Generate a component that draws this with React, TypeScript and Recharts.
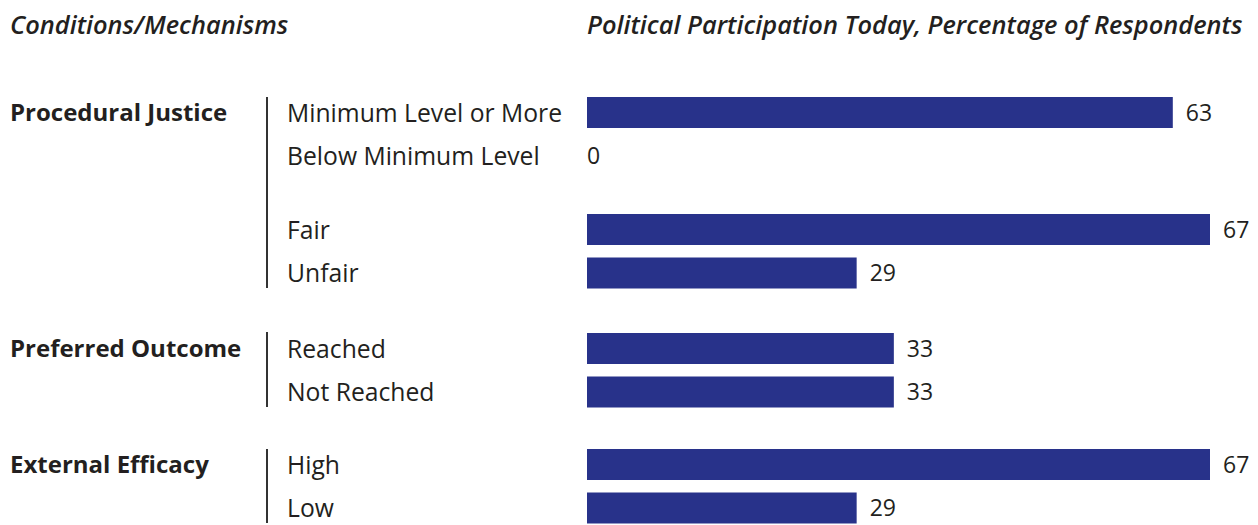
import { Bar, BarChart, LabelList, Rectangle, XAxis, YAxis } from 'recharts'

// each block is two rows of the figure
const blockLabels = [
  ['Minimum Level or More', 'Below Minimum Level'],
  ['Fair', 'Unfair'],
  ['Reached', 'Not Reached'],
  ['High', 'Low'],
]
const blockValues = [
  [63, 0],
  [67, 29],
  [33, 33],
  [67, 29],
]
const groupNames = ['Procedural Justice', 'Preferred Outcome', 'External Efficacy']

const leftTitle = 'Conditions/Mechanisms'
const rightTitle = 'Political Participation Today, Percentage of Respondents'

const BAR_COLOR = '#28328a'
const TEXT_COLOR = '#231f20'
const FONT = '"Open Sans", "Noto Sans", sans-serif'

const blockTops = [91, 208, 327, 443]
const ROW = 43.5

function CategoryTick(props: any) {
  return (
    <text
      x={287}
      y={props.y}
      dy="0.36em"
      textAnchor="start"
      fill={TEXT_COLOR}
      fontSize={24.7}
      fontFamily={FONT}
    >
      {props.payload.value}
    </text>
  )
}

function ValueLabel(props: any) {
  const { x, y, width, height, value } = props
  const lx = value > 0 ? x + width + 13 : x
  return (
    <text
      x={lx}
      y={y + height / 2}
      dy="0.36em"
      fill={TEXT_COLOR}
      fontSize={23}
      fontFamily={FONT}
    >
      {value}
    </text>
  )
}

// zero values keep a 1px slot (so the label shows) but draw nothing
function BarShape(props: any) {
  if (!props.value) return null
  return <Rectangle {...props} />
}

function Block({ index }: { index: number }) {
  const data = blockLabels[index].map((label, i) => ({
    label,
    value: blockValues[index][i],
  }))
  return (
    <div style={{ position: 'absolute', left: 0, top: blockTops[index] }}>
      <BarChart
        width={1258}
        height={ROW * 2}
        data={data}
        layout="vertical"
        margin={{ top: 0, right: 48, bottom: 0, left: 287 }}
        barCategoryGap={6}
      >
        <XAxis type="number" domain={[0, 67]} hide />
        <YAxis
          type="category"
          dataKey="label"
          width={300}
          axisLine={false}
          tickLine={false}
          tick={<CategoryTick />}
          interval={0}
        />
        <Bar
          dataKey="value"
          fill={BAR_COLOR}
          barSize={31}
          minPointSize={1}
          shape={<BarShape />}
          isAnimationActive={false}
        >
          <LabelList dataKey="value" content={<ValueLabel />} />
        </Bar>
      </BarChart>
    </div>
  )
}

const titleStyle = {
  position: 'absolute' as const,
  top: 8,
  fontSize: 25.4,
  fontStyle: 'italic',
  fontWeight: 600,
  color: TEXT_COLOR,
  lineHeight: '32px',
}

const groupTextStyle = {
  position: 'absolute' as const,
  left: 10,
  fontSize: 24,
  fontWeight: 700,
  color: TEXT_COLOR,
  lineHeight: '32px',
}

const ruleStyle = {
  position: 'absolute' as const,
  left: 266,
  width: 1.5,
  background: '#333',
}

export default function App() {
  return (
    <div
      style={{
        position: 'fixed',
        left: 0,
        top: 0,
        width: 1258,
        height: 525,
        overflow: 'hidden',
        background: '#fff',
        fontFamily: FONT,
      }}
    >
      <div style={{ ...titleStyle, left: 10 }}>{leftTitle}</div>
      <div style={{ ...titleStyle, left: 587 }}>{rightTitle}</div>

      <div style={{ ...groupTextStyle, top: 96 }}>{groupNames[0]}</div>
      <div style={{ ...groupTextStyle, top: 332 }}>{groupNames[1]}</div>
      <div style={{ ...groupTextStyle, top: 448 }}>{groupNames[2]}</div>

      <div style={{ ...ruleStyle, top: 97, height: 191 }} />
      <div style={{ ...ruleStyle, top: 332, height: 75 }} />
      <div style={{ ...ruleStyle, top: 449, height: 74 }} />

      {blockLabels.map((_, i) => (
        <Block key={i} index={i} />
      ))}
    </div>
  )
}
